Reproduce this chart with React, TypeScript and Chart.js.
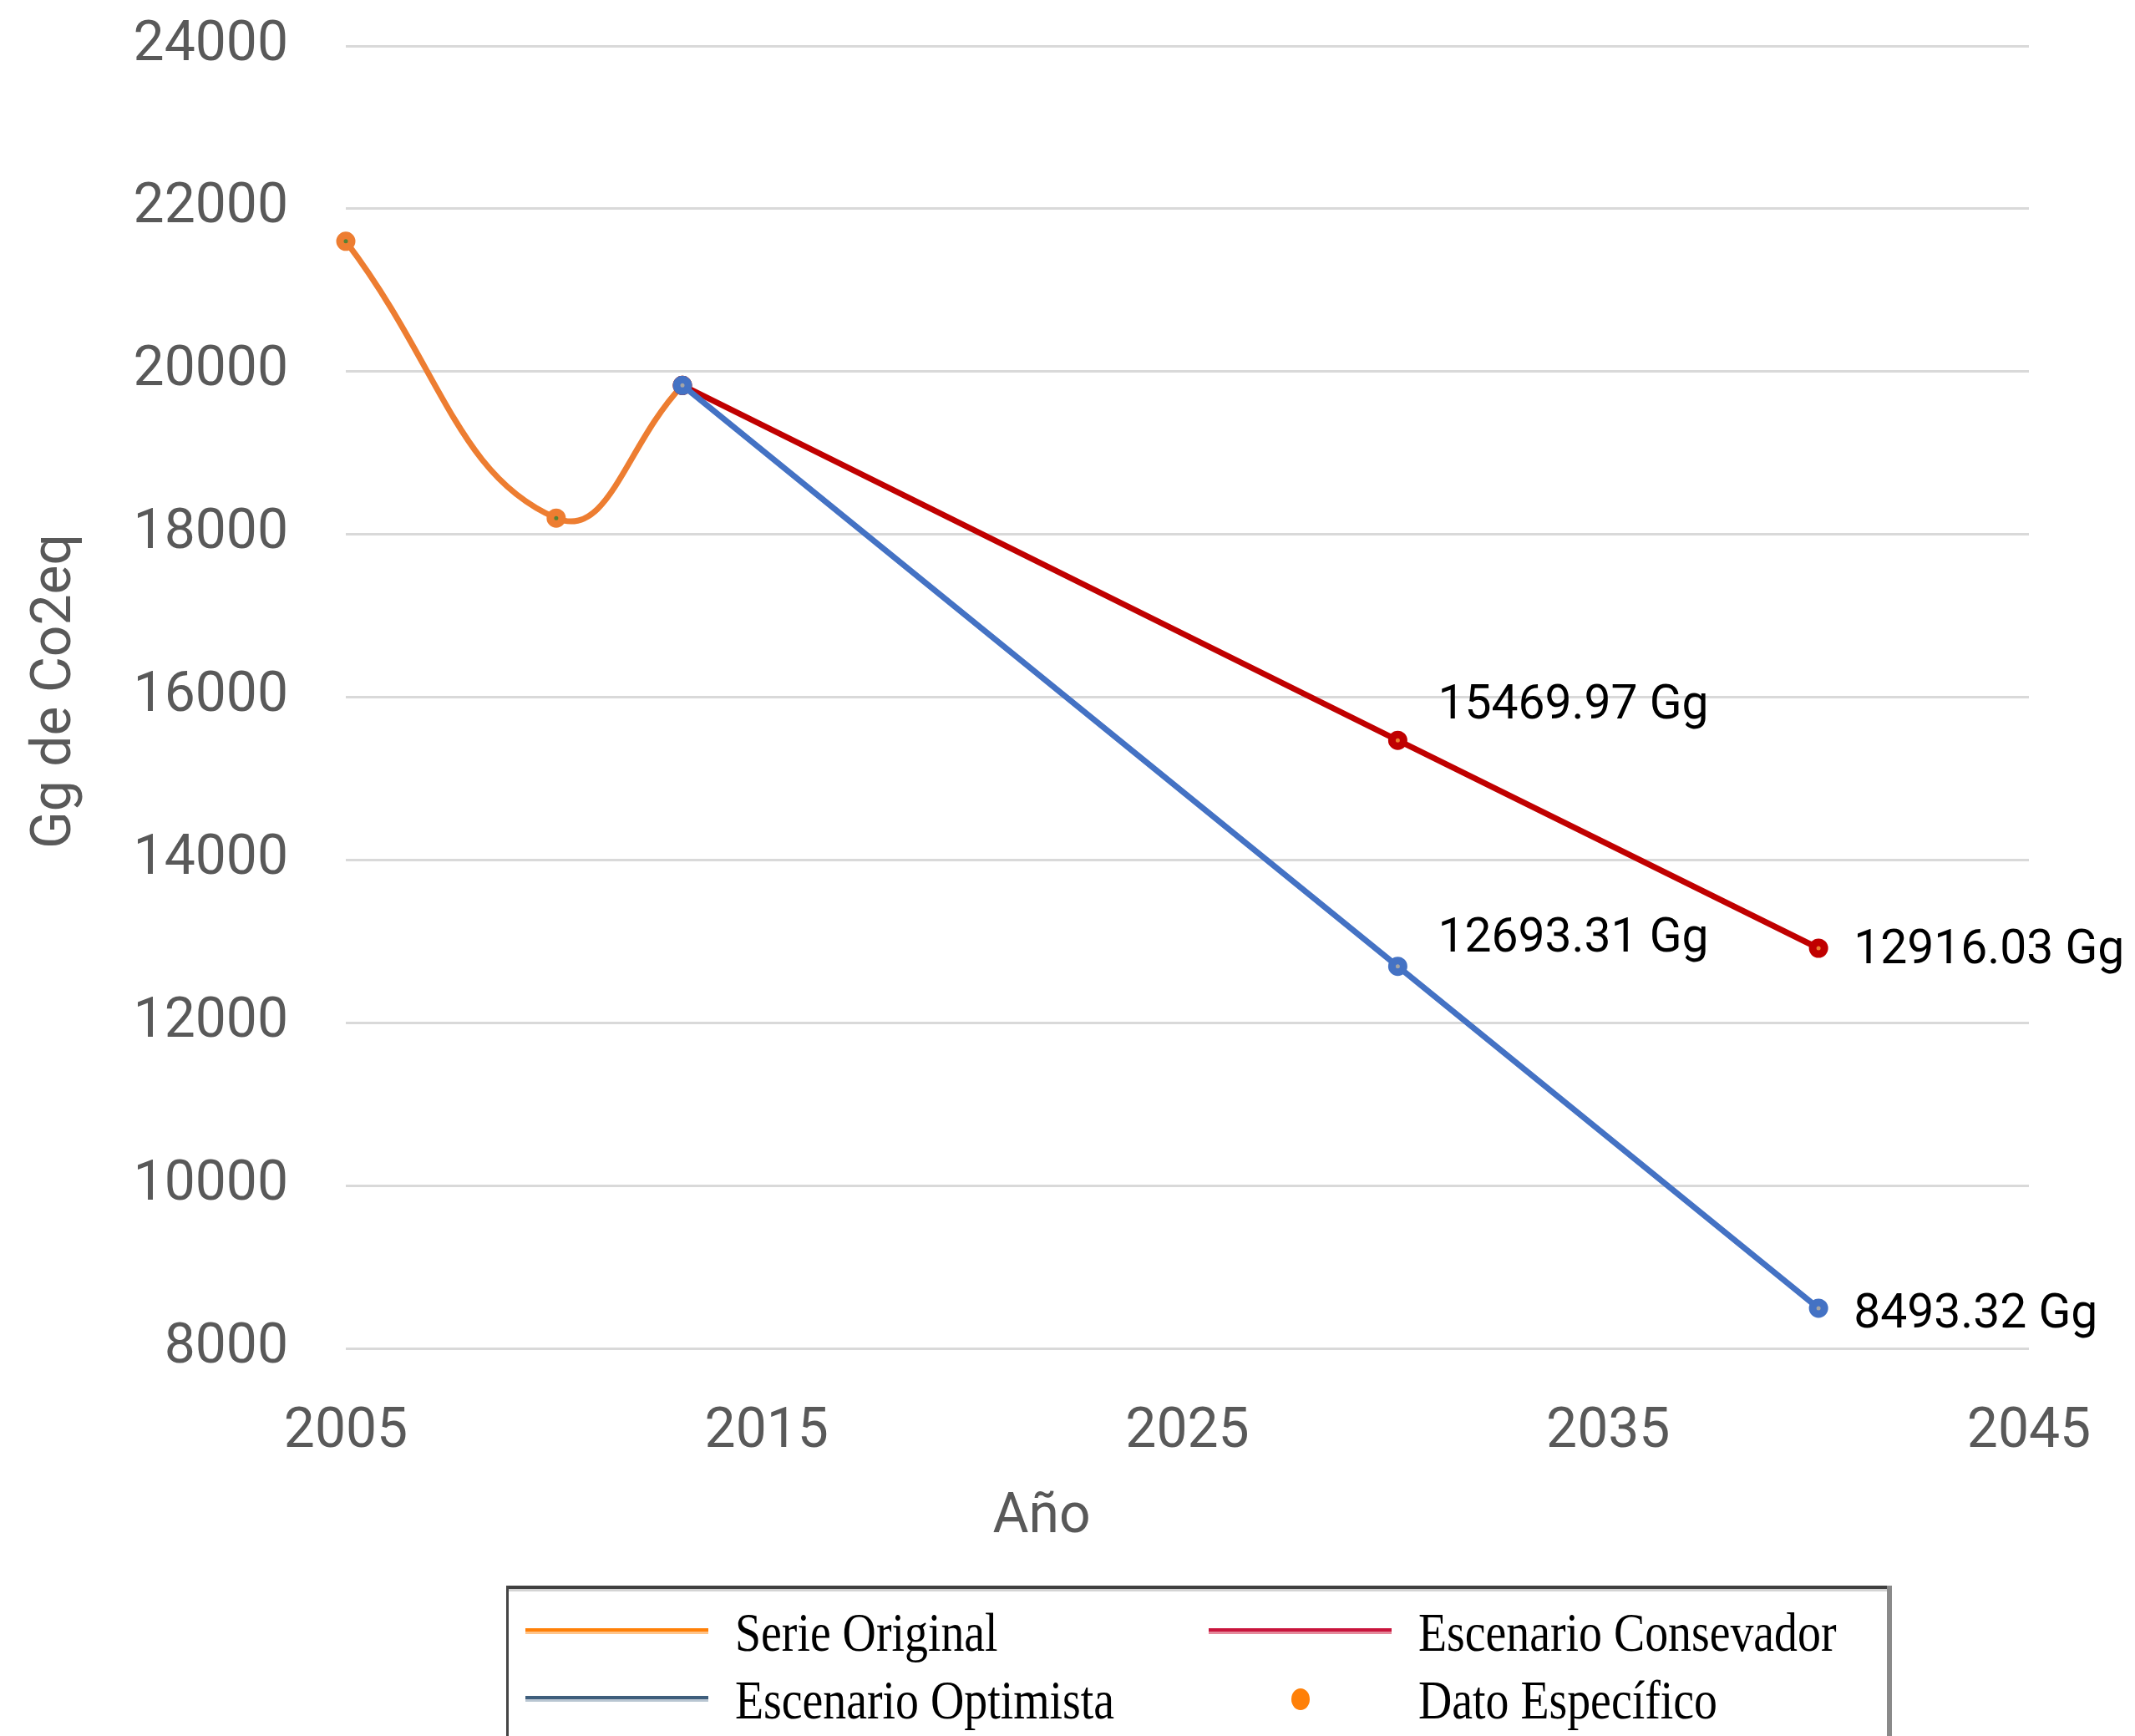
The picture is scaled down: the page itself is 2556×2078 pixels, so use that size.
import { useEffect, useRef } from 'react';
import { Chart, registerables } from 'chart.js';

Chart.register(...registerables);

// ---- Data ----
const originalYears = [2005, 2010, 2013];
const originalValues = [21600, 18200, 19830];

const conservadorYears = [2013, 2030, 2040];
const conservadorValues = [19830, 15469.97, 12916.03];

const optimistaYears = [2013, 2030, 2040];
const optimistaValues = [19830, 12693.31, 8493.32];

const xTicks = [2005, 2015, 2025, 2035, 2045];
const yTicks = [8000, 10000, 12000, 14000, 16000, 18000, 20000, 22000, 24000];

const seriesNames = ['Serie Original', 'Escenario Consevador', 'Escenario Optimista', 'Dato Específico'];
const labeledYears = [2030, 2040];

const xTitle = 'Año';
const yTitle = 'Gg de Co2eq';

const W = 2556;
const H = 2078;

const SANS = 'Roboto';
const SERIF = '"Liberation Serif", "DejaVu Serif", serif';

function toPoints(xs: number[], ys: number[]) {
  return xs.map((x, i) => ({ x, y: ys[i] }));
}

// data labels (value + " Gg") for the projected points
const labelOffsets: Record<number, Record<number, [number, number]>> = {
  1: { 2030: [48, -40], 2040: [42, 4] },
  2: { 2030: [48, -32], 2040: [42, 9] },
};

const dataLabelPlugin = {
  id: 'dataLabels',
  afterDatasetsDraw(chart: any) {
    const ctx = chart.ctx;
    ctx.save();
    ctx.font = `57px ${SANS}`;
    ctx.fillStyle = '#000000';
    ctx.textAlign = 'left';
    ctx.textBaseline = 'middle';
    [1, 2].forEach((di) => {
      const meta = chart.getDatasetMeta(di);
      const ds = chart.data.datasets[di];
      meta.data.forEach((pt: any, j: number) => {
        const raw = ds.data[j];
        if (!labeledYears.includes(raw.x)) return;
        const off = labelOffsets[di][raw.x];
        ctx.fillText(`${raw.y.toFixed(2)} Gg`, pt.x + off[0], pt.y + off[1]);
      });
    });
    ctx.restore();
  },
};

const axisTitlePlugin = {
  id: 'axisTitles',
  afterDraw(chart: any) {
    const ctx = chart.ctx;
    const area = chart.chartArea;
    ctx.save();
    ctx.font = `66px ${SANS}`;
    ctx.fillStyle = '#595959';
    ctx.textAlign = 'center';
    ctx.textBaseline = 'middle';
    ctx.fillText(xTitle, area.left + 833, area.bottom + 203);
    ctx.translate(67, (area.top + area.bottom) / 2 - 7);
    ctx.rotate(-Math.PI / 2);
    ctx.fillText(yTitle, 0, 0);
    ctx.restore();
  },
};

const legendPlugin = {
  id: 'customLegend',
  afterDraw(chart: any) {
    const ctx = chart.ctx;
    ctx.save();
    // frame
    ctx.fillStyle = '#404040';
    ctx.fillRect(606, 1898, 1656, 4);
    ctx.fillStyle = '#D4D4D4';
    ctx.fillRect(609, 1902, 1650, 3);
    ctx.fillStyle = '#454545';
    ctx.fillRect(606, 1898, 3, H - 1898);
    ctx.fillStyle = '#8A8A8A';
    ctx.fillRect(2259, 1898, 6, H - 1898);

    const items = [
      { name: seriesNames[0], kind: 'line', dark: '#FF8008', light: '#FFC489', lx: 629, tx: 880, cy: 1953 },
      { name: seriesNames[1], kind: 'line', dark: '#C8143C', light: '#E4899B', lx: 1447, tx: 1698, cy: 1953 },
      { name: seriesNames[2], kind: 'line', dark: '#3E5E7C', light: '#B9C6D2', lx: 629, tx: 880, cy: 2034 },
      { name: seriesNames[3], kind: 'dot', dark: '#FF8008', light: '#FF8008', lx: 1557, tx: 1698, cy: 2034 },
    ];
    items.forEach((it) => {
      if (it.kind === 'line') {
        ctx.fillStyle = it.dark;
        ctx.fillRect(it.lx, it.cy - 4, 219, 4);
        ctx.fillStyle = it.light;
        ctx.fillRect(it.lx, it.cy, 219, 3);
      } else {
        ctx.fillStyle = it.dark;
        ctx.beginPath();
        ctx.ellipse(it.lx, it.cy, 11, 13, 0, 0, Math.PI * 2);
        ctx.fill();
      }
      ctx.save();
      ctx.translate(it.tx, it.cy + 23);
      ctx.scale(0.9, 1.05);
      ctx.font = `62px ${SERIF}`;
      ctx.fillStyle = '#000000';
      ctx.textAlign = 'left';
      ctx.textBaseline = 'alphabetic';
      ctx.fillText(it.name, 0, 0);
      ctx.restore();
    });
    ctx.restore();
  },
};

export default function App() {
  const canvasRef = useRef<HTMLCanvasElement | null>(null);

  useEffect(() => {
    if (!canvasRef.current) return;
    const pointCommon = {
      pointRadius: 7,
      pointBorderWidth: 9,
      pointHoverRadius: 7,
      clip: false,
    };
    const chart = new Chart(canvasRef.current, {
      type: 'line',
      data: {
        datasets: [
          {
            label: seriesNames[0],
            data: toPoints(originalYears, originalValues),
            borderColor: '#ED7D31',
            borderWidth: 7,
            tension: 0.45,
            pointBackgroundColor: '#548235',
            pointBorderColor: '#ED7D31',
            order: 2,
            ...pointCommon,
          },
          {
            label: seriesNames[1],
            data: toPoints(conservadorYears, conservadorValues),
            borderColor: '#C00000',
            borderWidth: 7,
            tension: 0,
            pointBackgroundColor: '#ED7D31',
            pointBorderColor: '#C00000',
            order: 1,
            ...pointCommon,
          },
          {
            label: seriesNames[2],
            data: toPoints(optimistaYears, optimistaValues),
            borderColor: '#4472C4',
            borderWidth: 7,
            tension: 0,
            pointBackgroundColor: '#A5A5A5',
            pointBorderColor: '#4472C4',
            order: 0,
            ...pointCommon,
          },
        ],
      },
      options: {
        animation: false,
        responsive: false,
        devicePixelRatio: 1,
        events: [],
        layout: { autoPadding: false, padding: { left: 0, top: 55, right: 127, bottom: 314 } },
        plugins: {
          legend: { display: false },
          tooltip: { enabled: false },
        },
        scales: {
          x: {
            type: 'linear',
            min: 2005,
            max: 2045,
            afterBuildTicks: (s: any) => {
              s.ticks = xTicks.map((v) => ({ value: v }));
            },
            afterFit: (s: any) => {
              s.height = 150;
              s.paddingLeft = 0;
              s.paddingRight = 0;
              s.paddingTop = 0;
              s.paddingBottom = 0;
            },
            grid: { display: false, drawTicks: false },
            border: { display: false },
            ticks: {
              font: { family: SANS, size: 66 },
              color: '#595959',
              padding: 62,
              maxRotation: 0,
              autoSkip: false,
              callback: (v: any) => String(v),
            },
          },
          y: {
            type: 'linear',
            min: 8000,
            max: 24000,
            afterBuildTicks: (s: any) => {
              s.ticks = yTicks.map((v) => ({ value: v }));
            },
            afterFit: (s: any) => {
              s.width = 414;
              s.paddingLeft = 0;
              s.paddingRight = 0;
              s.paddingTop = 0;
              s.paddingBottom = 0;
            },
            grid: { color: '#D9D9D9', lineWidth: 3, drawTicks: false },
            border: { display: false },
            ticks: {
              font: { family: SANS, size: 66 },
              color: '#595959',
              padding: 69,
              autoSkip: false,
              callback: (v: any) => String(v),
            },
          },
        },
      },
      plugins: [dataLabelPlugin, axisTitlePlugin, legendPlugin],
    } as any);
    return () => chart.destroy();
  }, []);

  return (
    <div style={{ position: 'absolute', left: 0, top: 0, width: W, height: H, background: '#ffffff' }}>
      <canvas ref={canvasRef} width={W} height={H} style={{ display: 'block', width: W, height: H }} />
    </div>
  );
}
